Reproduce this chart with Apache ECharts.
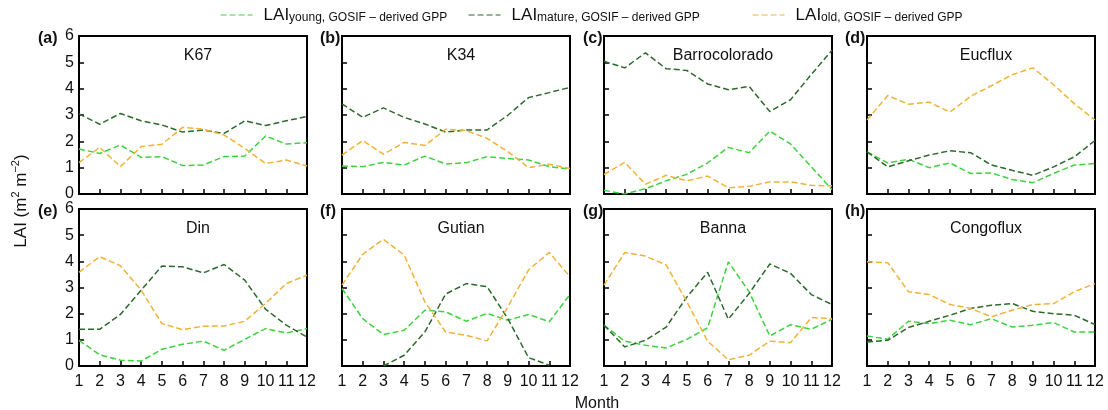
<!DOCTYPE html>
<html>
<head>
<meta charset="utf-8">
<script src="https://cdn.jsdelivr.net/npm/echarts@6/dist/echarts.min.js"></script>
<style>
html,body{margin:0;padding:0;background:#fff;}
#chart{width:1108px;height:410px;}
</style>
</head>
<body>
<div id="chart"></div>
<script>
// ---------------- data ----------------
const months = ['1','2','3','4','5','6','7','8','9','10','11','12'];
const sites = ['K67','K34','Barrocolorado','Eucflux','Din','Gutian','Banna','Congoflux'];
const panelTags = ['(a)','(b)','(c)','(d)','(e)','(f)','(g)','(h)'];
const yTicks = [0,1,2,3,4,5,6];
const legendNames = ['young','mature','old'];

const k67Young  = [1.71,1.54,1.86,1.39,1.42,1.08,1.10,1.42,1.44,2.20,1.90,1.95];
const k67Mature = [3.04,2.65,3.06,2.78,2.62,2.35,2.43,2.30,2.78,2.60,2.78,2.94];
const k67Old    = [1.19,1.77,1.04,1.80,1.89,2.53,2.46,2.24,1.73,1.16,1.29,1.06];

const k34Young  = [1.06,1.04,1.20,1.10,1.44,1.14,1.19,1.42,1.35,1.29,1.04,0.94];
const k34Mature = [3.42,2.91,3.27,2.91,2.66,2.35,2.43,2.43,2.99,3.66,3.85,4.05];
const k34Old    = [1.48,2.03,1.51,1.96,1.84,2.46,2.41,2.11,1.61,1.00,1.13,0.97];

const barYoung  = [0.14,0.00,0.20,0.50,0.75,1.18,1.77,1.57,2.39,1.90,1.03,0.17];
const barMature = [5.04,4.79,5.36,4.76,4.69,4.18,3.96,4.09,3.13,3.58,4.54,5.46];
const barOld    = [0.74,1.20,0.37,0.71,0.50,0.68,0.24,0.29,0.46,0.46,0.33,0.31];

const eucYoung  = [1.60,1.18,1.32,1.00,1.18,0.78,0.80,0.55,0.43,0.78,1.10,1.16];
const eucMature = [1.60,1.03,1.26,1.48,1.64,1.57,1.10,0.90,0.71,1.03,1.41,2.03];
const eucOld    = [2.81,3.74,3.41,3.49,3.11,3.71,4.11,4.53,4.79,4.15,3.43,2.81];

const dinYoung  = [0.98,0.43,0.22,0.19,0.64,0.83,0.95,0.60,1.02,1.43,1.26,1.43];
const dinMature = [1.40,1.40,1.97,2.90,3.82,3.79,3.56,3.88,3.28,2.17,1.56,1.11];
const dinOld    = [3.58,4.18,3.83,2.90,1.62,1.39,1.52,1.53,1.71,2.39,3.15,3.47];

const gutYoung  = [2.96,1.81,1.20,1.37,2.13,2.07,1.71,2.01,1.75,1.97,1.69,2.73];
const gutMature = [null,null,0.00,0.41,1.30,2.75,3.15,3.03,1.81,0.32,0.03,null];
const gutOld    = [3.09,4.27,4.84,4.24,2.45,1.30,1.17,0.96,2.26,3.67,4.34,3.41];

const banYoung  = [1.56,0.95,0.79,0.69,1.02,1.46,3.98,2.84,1.15,1.58,1.40,1.79];
const banMature = [1.56,0.73,0.98,1.49,2.64,3.58,1.79,2.77,3.90,3.54,2.73,2.35];
const banOld    = [3.09,4.34,4.20,3.86,2.45,0.95,0.24,0.41,0.95,0.89,1.85,1.81];

const conYoung  = [1.15,1.02,1.71,1.62,1.75,1.58,1.81,1.49,1.56,1.66,1.30,1.30];
const conMature = [0.92,0.98,1.47,1.71,1.94,2.20,2.32,2.39,2.09,2.00,1.94,1.58];
const conOld    = [3.98,3.95,2.84,2.73,2.35,2.20,1.88,2.13,2.35,2.38,2.84,3.15];

const youngSets  = [k67Young, k34Young, barYoung, eucYoung, dinYoung, gutYoung, banYoung, conYoung];
const matureSets = [k67Mature,k34Mature,barMature,eucMature,dinMature,gutMature,banMature,conMature];
const oldSets    = [k67Old,   k34Old,   barOld,   eucOld,   dinOld,   gutOld,   banOld,   conOld];

// ---------------- layout / style ----------------
const FONT = 'Liberation Sans, Arial, sans-serif';
const colYoung = '#3fd13f', colMature = '#2c6a2c', colOld = '#f0b33a';
const lefts = [79, 342, 604, 867];
const tops = [36, 209];
const W = 228, H = [158, 157];

const grids = [], xAxes = [], yAxes = [], series = [], titles = [];
for (let i = 0; i < 8; i++) {
  const r = Math.floor(i / 4), c = i % 4;
  grids.push({left: lefts[c], top: tops[r], width: W, height: H[r],
    show: true, borderColor: '#000', borderWidth: 2, backgroundColor: 'transparent'});
  xAxes.push({type: 'category', gridIndex: i, data: months, boundaryGap: false,
    axisLine: {show: true, lineStyle: {color: '#000', width: 2}},
    axisTick: {show: true, inside: true, length: 5, lineStyle: {color: '#000', width: 1.5}},
    axisLabel: {show: r === 1, color: '#111', fontSize: 16, fontFamily: FONT, margin: 8, interval: 0},
    splitLine: {show: false}});
  yAxes.push({type: 'value', gridIndex: i, min: 0, max: 6, interval: 1,
    axisLine: {show: true, lineStyle: {color: '#000', width: 2}},
    axisTick: {show: true, inside: true, length: 5, lineStyle: {color: '#000', width: 1.5}},
    axisLabel: {show: c === 0, color: '#111', fontSize: 16, fontFamily: FONT, margin: 5,
      formatter: v => yTicks.includes(v) ? String(v) : ''},
    splitLine: {show: false}});
  const mk = (name, data, color) => ({
    name, type: 'line', xAxisIndex: i, yAxisIndex: i, data, symbol: 'none',
    connectNulls: false, clip: true, z: 3,
    lineStyle: {color, width: 1.5, type: [6, 3]}, itemStyle: {color}
  });
  series.push(mk('young', youngSets[i], colYoung));
  series.push(mk('mature', matureSets[i], colMature));
  series.push(mk('old', oldSets[i], colOld));
  titles.push({text: sites[i], left: lefts[c] + W / 2, top: tops[r] + 7, textAlign: 'center',
    textStyle: {fontSize: 16, fontWeight: 'normal', color: '#111', fontFamily: FONT}});
}
const tagX = [33, 315, 578, 840];
for (let i = 0; i < 8; i++) {
  const r = Math.floor(i / 4), c = i % 4;
  titles.push({text: panelTags[i], left: tagX[c], top: tops[r] - 10,
    textStyle: {fontSize: 16, fontWeight: 'bold', color: '#111', fontFamily: FONT}});
}
titles.push({text: 'Month', left: 592, top: 391, textAlign: 'center',
  textStyle: {fontSize: 16, fontWeight: 'normal', color: '#111', fontFamily: FONT}});

const legendSub = {young: 'young, GOSIF \u2013 derived GPP', mature: 'mature, GOSIF \u2013 derived GPP', old: 'old, GOSIF \u2013 derived GPP'};
const legendLeft = [220, 468, 752];
const legends = legendNames.map((n, k) => ({
  data: [n], left: legendLeft[k], top: 7, itemWidth: 32, itemHeight: 14, padding: 0,
  itemStyle: {opacity: 0},
  lineStyle: {width: 1.2},
  formatter: nm => '{m|LAI}{s|' + legendSub[nm] + '}',
  textStyle: {fontFamily: FONT, color: '#111',
    rich: {m: {fontSize: 17, fontFamily: FONT, color: '#111', lineHeight: 18, verticalAlign: 'bottom', padding: [0, 0, 0, 6]},
           s: {fontSize: 12, fontFamily: FONT, color: '#111', lineHeight: 11, verticalAlign: 'bottom'}}}
}));

const option = {
  animation: false,
  backgroundColor: '#fff',
  title: titles,
  legend: legends,
  graphic: [{type: 'text', x: 20, y: 201, rotation: Math.PI / 2,
    style: {text: '{m|LAI (m}{s|2}{m| m}{s|\u22122}{m|)}', fontFamily: FONT, fill: '#111',
      align: 'center', verticalAlign: 'middle',
      rich: {m: {fontSize: 17, fontFamily: FONT, fill: '#111', lineHeight: 20, verticalAlign: 'bottom'},
             s: {fontSize: 11, fontFamily: FONT, fill: '#111', lineHeight: 12, verticalAlign: 'top'}}}}],
  grid: grids, xAxis: xAxes, yAxis: yAxes, series
};
const chart = echarts.init(document.getElementById('chart'), null, {renderer: 'canvas'});
chart.setOption(option);
</script>
</body>
</html>
